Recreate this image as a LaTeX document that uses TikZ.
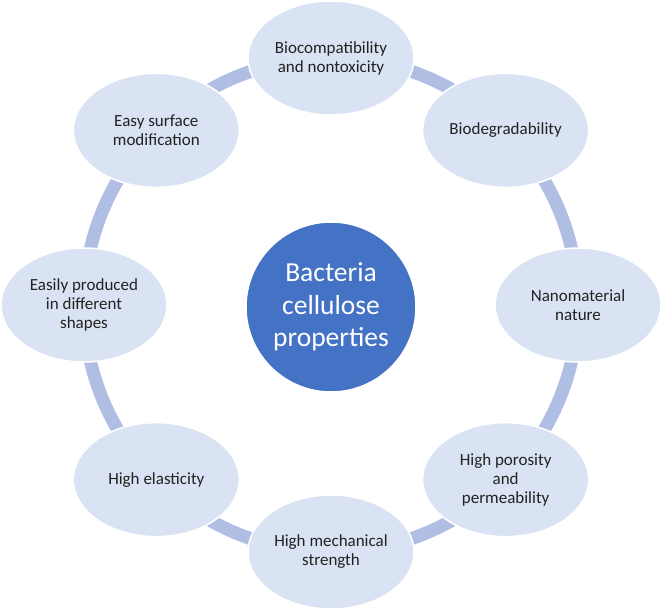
\documentclass[tikz,border=0pt]{standalone}
\usepackage{fontspec}
\setmainfont{Carlito}
\usetikzlibrary{shapes.geometric}
\definecolor{corefill}{HTML}{4472C4}
\definecolor{propfill}{HTML}{DAE3F3}
\definecolor{ringline}{HTML}{B0BEE3}
\definecolor{proptext}{HTML}{222222}
\begin{document}
\begin{tikzpicture}[
x=1pt,y=1pt,
prop/.style={ellipse,fill=propfill,draw=white,line width=1.5pt,
	minimum width=166pt,minimum height=114pt,inner sep=0pt,align=center,
	text=proptext,font=\fontsize{17}{19}\selectfont},
core/.style={circle,fill=corefill,draw=white,line width=1.5pt,minimum size=170pt,
	inner sep=0pt,align=center,text=white,font=\fontsize{27.5}{32.5}\selectfont},
ring/.style={draw=ringline,line width=13pt}
]
\useasboundingbox (-331,-308) rectangle (329,305);
\coordinate (hub) at (0,0);
\draw[ring] (hub) circle[radius=247pt];
\node[core] (bc) at (0,-2) {Bacteria\\cellulose\\properties};
\node[prop] (p1) at (90:247pt) {Biocompatibility\\and nontoxicity};
\node[prop] (p2) at (45:247pt) {Biodegradability};
\node[prop] (p3) at (0:247pt) {Nanomaterial\\nature};
\node[prop] (p4) at (-45:247pt) {High porosity\\and\\permeability};
\node[prop] (p5) at (-90:247pt) {High mechanical\\strength};
\node[prop] (p6) at (-135:247pt) {High elasticity};
\node[prop] (p7) at (180:247pt) {Easily produced\\in different\\shapes};
\node[prop] (p8) at (135:247pt) {Easy surface\\modification};
\end{tikzpicture}
\end{document}
